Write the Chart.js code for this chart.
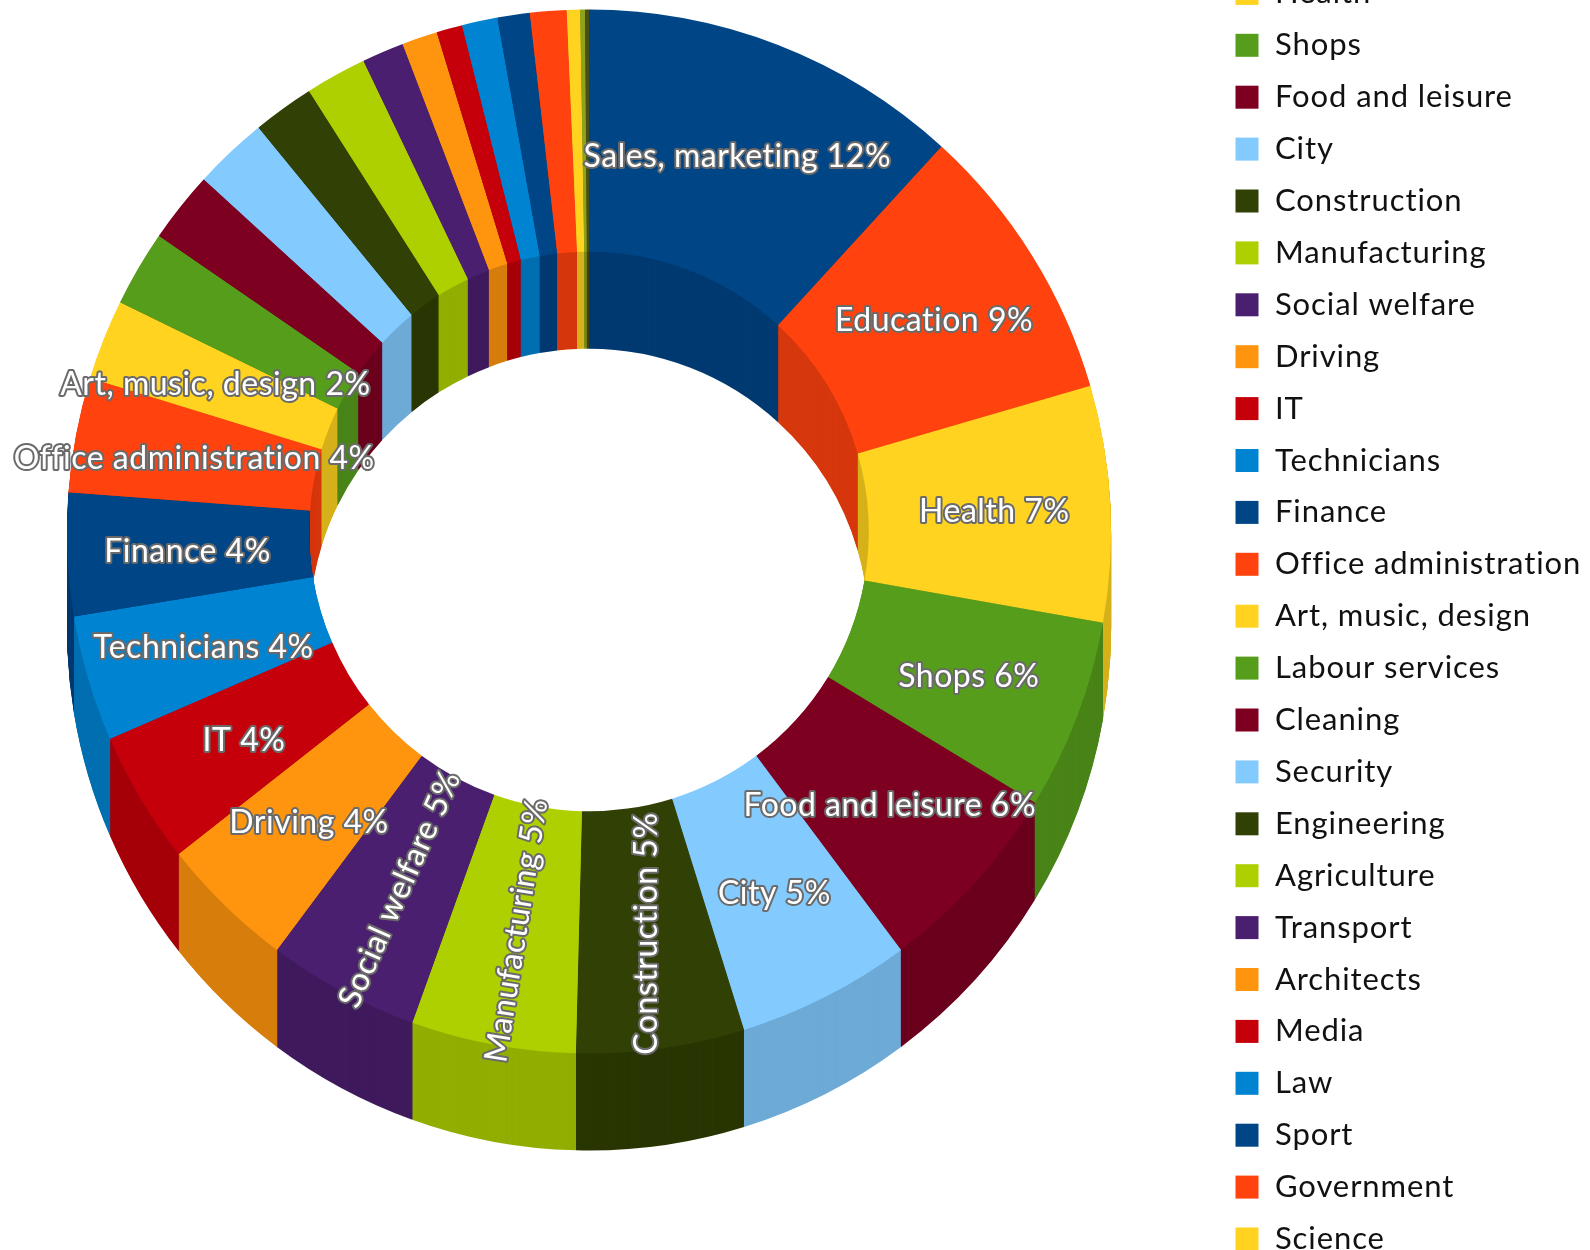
<!DOCTYPE html>
<html>
<head>
<meta charset="utf-8">
<title>Employment by sector</title>
<script src="https://cdn.jsdelivr.net/npm/chart.js@4/dist/chart.umd.min.js"></script>
<style>
  html, body { margin: 0; background: #fff; overflow: hidden; }
  canvas { display: block; }
</style>
</head>
<body>
<canvas id="sectorChart" width="1590" height="1250"></canvas>
<script>
const categories = [
    'Sales, marketing', 'Education', 'Health', 'Shops', 'Food and leisure', 'City',
    'Construction', 'Manufacturing', 'Social welfare', 'Driving', 'IT', 'Technicians',
    'Finance', 'Office administration', 'Art, music, design', 'Labour services',
    'Cleaning', 'Security', 'Engineering', 'Agriculture', 'Transport', 'Architects',
    'Media', 'Law', 'Sport', 'Government', 'Science', 'Other', 'Not stated'
];
const shares = [
    11.8, 8.7, 7.3, 5.9, 6.1, 5.4,
    5.2, 5.1, 4.7, 4.2, 4.1, 3.9,
    3.8, 3.55, 2.49, 2.35,
    2.2, 2.3, 1.9, 1.9, 1.3, 1.1,
    0.8, 1.1, 1.0, 1.13, 0.41, 0.15, 0.12
];
const palette = [
    '#004586', '#ff420e', '#ffd320', '#579d1c', '#7e0021', '#83caff',
    '#314004', '#aecf00', '#4b1f6f', '#ff950e', '#c5000b', '#0084d1'
];
const lastSliceColors = ['#8ea21c', '#4a5014'];

// only the larger slices carry a label, three of them run along the ring
const labelledSlices = 15;
const labelAngles = { 'Construction': -90, 'Manufacturing': -81, 'Social welfare': -66 };

const sliceColors = categories.map((_, i) => {
    const fromEnd = categories.length - i;
    return fromEnd <= lastSliceColors.length
        ? lastSliceColors[lastSliceColors.length - fromEnd]
        : palette[i % palette.length];
});
const fontFamily = 'Lato, "Open Sans", sans-serif';

function darken(hex, factor) {
    const n = parseInt(hex.slice(1), 16);
    const r = Math.round((n >> 16) * factor);
    const g = Math.round(((n >> 8) & 255) * factor);
    const b = Math.round((n & 255) * factor);
    return `rgb(${r},${g},${b})`;
}

// side walls: the ring repeated downwards in a darker tone, lowest layer first
const ringDepth = {
    id: 'ringDepth',
    beforeDatasetsDraw(chart) {
        const { ctx } = chart;
        const arcs = chart.getDatasetMeta(0).data;
        const depth = 97;
        ctx.save();
        for (let d = depth; d > 0; d--) {
            arcs.forEach((arc, i) => {
                const { x, y, startAngle, endAngle, innerRadius, outerRadius } = arc;
                ctx.beginPath();
                ctx.arc(x, y + d, outerRadius, startAngle, endAngle);
                ctx.arc(x, y + d, innerRadius, endAngle, startAngle, true);
                ctx.closePath();
                ctx.fillStyle = darken(sliceColors[i], 0.84);
                ctx.fill();
            });
        }
        ctx.restore();
    }
};

const sliceLabels = {
    id: 'sliceLabels',
    afterDatasetsDraw(chart) {
        const { ctx } = chart;
        const arcs = chart.getDatasetMeta(0).data;
        ctx.save();
        ctx.font = `32px ${fontFamily}`;
        ctx.letterSpacing = '0.5px';
        ctx.textAlign = 'center';
        ctx.textBaseline = 'middle';
        ctx.lineJoin = 'round';
        ctx.lineWidth = 4;
        ctx.strokeStyle = '#6a6a6a';
        ctx.fillStyle = '#fff';
        arcs.slice(0, labelledSlices).forEach((arc, i) => {
            const mid = (arc.startAngle + arc.endAngle) / 2;
            const r = (arc.innerRadius + arc.outerRadius) / 2 + 3;
            const text = `${categories[i]} ${Math.round(shares[i])}%`;
            ctx.save();
            ctx.translate(arc.x + 2 + Math.cos(mid) * r, arc.y + 2 + Math.sin(mid) * r);
            ctx.rotate((labelAngles[categories[i]] || 0) * Math.PI / 180);
            ctx.strokeText(text, 0, 0);
            ctx.fillText(text, 0, 0);
            ctx.restore();
        });
        ctx.restore();
    }
};

// the list is taller than the canvas, so it runs past the top and bottom edges
const sideLegend = {
    id: 'sideLegend',
    afterDraw(chart) {
        const { ctx } = chart;
        const rowHeight = 51.9;
        const firstRow = -110.4;
        ctx.save();
        ctx.font = `31px ${fontFamily}`;
        ctx.letterSpacing = '0.9px';
        ctx.textBaseline = 'middle';
        chart.options.plugins.legend.labels.generateLabels(chart).forEach((item, i) => {
            const y = firstRow + i * rowHeight;
            ctx.fillStyle = item.fillStyle;
            ctx.fillRect(1235.5, y - 11.5, 23, 23);
            ctx.fillStyle = '#111';
            ctx.fillText(item.text, 1275, y);
        });
        ctx.restore();
    }
};

const sectorChart = new Chart(document.getElementById('sectorChart'), {
    type: 'doughnut',
    data: {
        labels: categories,
        datasets: [{
            data: shares,
            backgroundColor: sliceColors,
            borderWidth: 0,
        }]
    },
    options: {
        responsive: false,
        animation: false,
        radius: 522,
        cutout: '53.6%',
        layout: { padding: { right: 412, bottom: 187 } },
        plugins: {
            legend: { display: false },
            tooltip: { enabled: false },
        },
    },
    plugins: [ringDepth, sliceLabels, sideLegend],
});
</script>
</body>
</html>
